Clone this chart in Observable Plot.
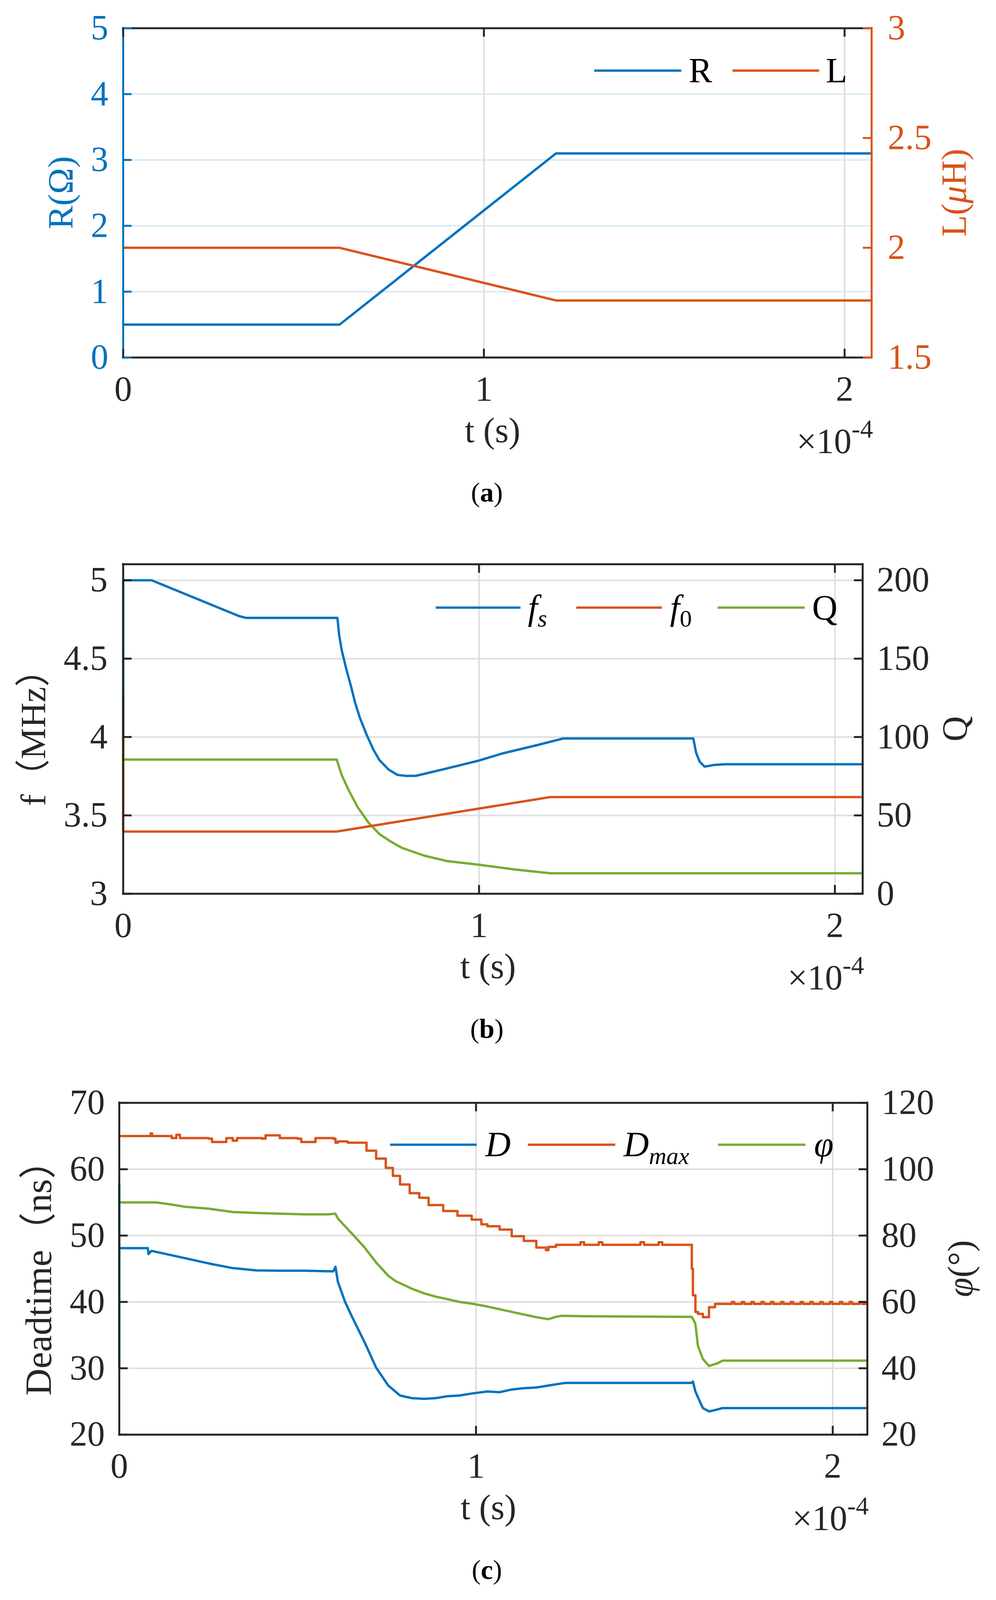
<!DOCTYPE html>
<html>
<head>
<meta charset="utf-8">
<script src="https://cdn.jsdelivr.net/npm/d3@7"></script>
<script src="https://cdn.jsdelivr.net/npm/@observablehq/plot@0.6"></script>
<style>
  html, body { margin: 0; padding: 0; background: #fff; overflow: hidden; }
  #page { width: 2551px; position: relative; }
  #page svg { display: block; max-width: none !important; }
</style>
</head>
<body>
<div id="page"></div>
<script>
// ---------------- data (t in units of 1e-4 s) ----------------
const xTicks = [0, 1, 2];

// Panel (a)
const tA   = [0, 0.6, 1.2, 2.075];
const R_A  = [0.5, 0.5, 3.1, 3.1];
const L_A  = [2.0, 2.0, 1.76, 1.76];
const rTicks = [0, 1, 2, 3, 4, 5];
const lTicks = [1.5, 2, 2.5, 3];

// Panel (b)
const tFs = [0, 0, 0.08, 0.325, 0.345, 0.37, 0.602, 0.607, 0.614, 0.627, 0.640, 0.652, 0.665, 0.684, 0.703, 0.720, 0.746, 0.771, 0.796, 0.822, 0.859, 0.909, 1.0, 1.067, 1.161, 1.237, 1.602, 1.610, 1.620, 1.634, 1.660, 1.691, 2.078];
const fsVals = [4.0, 5.0, 5.0, 4.772, 4.760, 4.760, 4.760, 4.649, 4.555, 4.433, 4.325, 4.217, 4.123, 4.015, 3.920, 3.853, 3.792, 3.758, 3.752, 3.752, 3.772, 3.799, 3.850, 3.896, 3.947, 3.991, 3.991, 3.90, 3.843, 3.811, 3.822, 3.826, 3.826];
const tF0 = [0, 0, 0.600, 1.200, 2.078];
const f0Vals = [4.26, 3.397, 3.397, 3.617, 3.617];
const tQ = [0, 0, 0.600, 0.614, 0.633, 0.658, 0.689, 0.720, 0.752, 0.783, 0.846, 0.909, 1.0, 1.099, 1.200, 2.078];
const qVals = [100, 85.6, 85.6, 75.8, 66.4, 55.6, 45.5, 38.1, 33.3, 29.3, 24.3, 20.9, 18.5, 15.5, 13.1, 13.1];
const fTicks = [3, 3.5, 4, 4.5, 5];
const qTicks = [0, 50, 100, 150, 200];

// Panel (c)
const tD = [0, 0, 0, 0.080, 0.082, 0.090, 0.184, 0.251, 0.318, 0.385, 0.452, 0.519, 0.600, 0.606, 0.613, 0.633, 0.653, 0.687, 0.720, 0.754, 0.787, 0.820, 0.854, 0.887, 0.921, 0.954, 0.988, 1.032, 1.066, 1.100, 1.134, 1.169, 1.203, 1.238, 1.251, 1.605, 1.608, 1.615, 1.629, 1.636, 1.653, 1.670, 1.691, 2.097];
const dVals = [30.1, 57.8, 48.1, 48.1, 47.2, 47.7, 46.6, 45.8, 45.1, 44.75, 44.7, 44.7, 44.6, 45.3, 43.0, 40.0, 37.7, 34.0, 30.1, 27.4, 25.9, 25.5, 25.4, 25.5, 25.8, 25.9, 26.2, 26.5, 26.4, 26.8, 27.0, 27.1, 27.4, 27.7, 27.8, 27.8, 28.0, 26.5, 24.8, 24.0, 23.5, 23.7, 24.0, 24.0];
const tPhi = [0, 0.104, 0.144, 0.184, 0.251, 0.318, 0.385, 0.452, 0.519, 0.586, 0.606, 0.613, 0.653, 0.687, 0.720, 0.754, 0.774, 0.820, 0.854, 0.887, 0.921, 0.954, 0.988, 1.028, 1.100, 1.169, 1.203, 1.224, 1.238, 1.306, 1.605, 1.615, 1.622, 1.636, 1.653, 1.677, 1.691, 2.097];
const phiVals = [90.0, 90.0, 89.4, 88.7, 88.1, 87.1, 86.8, 86.6, 86.4, 86.4, 86.6, 85.1, 80.5, 76.5, 71.9, 67.9, 66.3, 64.0, 62.6, 61.6, 60.8, 60.0, 59.5, 58.7, 57.0, 55.4, 54.8, 55.5, 55.8, 55.7, 55.5, 53.4, 46.8, 42.8, 40.7, 41.5, 42.3, 42.3];
const tDmax = [0, 0.088, 0.092, 0.147, 0.16, 0.17, 0.184, 0.25, 0.26, 0.30, 0.318, 0.33, 0.35, 0.40, 0.41, 0.45, 0.50, 0.51, 0.55, 0.60, 0.606, 0.613, 0.640, 0.680, 0.693, 0.720, 0.747, 0.767, 0.787, 0.814, 0.841, 0.867, 0.908, 0.948, 0.988, 1.015, 1.032, 1.066, 1.100, 1.134, 1.169, 1.196, 1.203, 1.224, 1.293, 1.303, 1.344, 1.354, 1.461, 1.471, 1.512, 1.522, 1.605, 1.608, 1.615, 1.622, 1.636, 1.653, 1.670, 1.691, 1.717, 1.724, 1.745, 1.752, 1.772, 1.779, 1.800, 1.807, 1.827, 1.834, 1.855, 1.862, 1.882, 1.889, 1.910, 1.917, 1.937, 1.944, 1.965, 1.972, 1.992, 1.999, 2.020, 2.027, 2.047, 2.054, 2.075, 2.082, 2.097];
const dmaxVals = [65.0, 65.4, 65.0, 64.7, 65.2, 64.7, 64.7, 64.6, 64.1, 64.7, 64.3, 64.7, 64.7, 64.6, 65.1, 64.7, 64.6, 64.1, 64.7, 64.6, 64.0, 64.2, 64.0, 64.0, 62.8, 61.6, 60.2, 59.0, 57.7, 56.4, 55.7, 54.6, 53.7, 53.0, 52.4, 51.7, 51.4, 50.9, 49.9, 49.2, 48.2, 47.8, 48.3, 48.6, 49.0, 48.6, 49.0, 48.6, 49.0, 48.6, 49.0, 48.6, 45.0, 41.0, 38.5, 38.2, 37.7, 39.2, 39.7, 39.7, 40.0, 39.7, 40.0, 39.7, 40.0, 39.7, 40.0, 39.7, 40.0, 39.7, 40.0, 39.7, 40.0, 39.7, 40.0, 39.7, 40.0, 39.7, 40.0, 39.7, 40.0, 39.7, 40.0, 39.7, 40.0, 39.7, 40.0, 39.7, 39.7];
const dTicks = [20, 30, 40, 50, 60, 70];
const phiTicks = [20, 40, 60, 80, 100, 120];

// ---------------- styling ----------------
const FONT = "Liberation Serif, Noto Sans CJK SC, serif";
const BLUE = "#0072BD", ORANGE = "#D95319", GREEN = "#77AC30";
const AX = "#262626", GRID = "#dedede", GRID_BLUE = "#d9eaf5";
const W = 2551, H0 = 4191, FS = 90, LW = 5, SW = 6, TICK = 22;
// fit the nominal 4191-px layout into the visible viewport height
const VH = window.innerHeight || H0;
const S = Math.min(1, VH / H0);
document.getElementById("page").style.height = (H0 * S) + "px";

const zipRows = (ts, vs) => ts.map((t, i) => ({t, v: vs[i]}));

function txt(svg, o) {
  const t = svg.append("text")
    .attr("font-family", FONT)
    .attr("font-size", o.size || FS)
    .attr("fill", o.fill || AX)
    .attr("text-anchor", o.anchor || "middle");
  if (o.rotate) t.attr("transform", `translate(${o.x},${o.y}) rotate(${o.rotate})`);
  else t.attr("x", o.x).attr("y", o.y);
  if (o.baseline) t.attr("dominant-baseline", o.baseline);
  for (const p of o.parts) {
    const s = t.append("tspan").text(p.t);
    if (p.italic) s.attr("font-style", "italic");
    if (p.bold) s.attr("font-weight", "bold");
    if (p.size) s.attr("font-size", p.size);
    if (p.dy) s.attr("dy", p.dy);
  }
  return t;
}

function buildPanel(cfg) {
  const {y0, h, left, right, top, bottom, xMax, yDomain} = cfg;
  const [y0d, y1d] = yDomain;
  const pxX = xMax / (right - left);               // data units per px (x)
  const pxY = (y1d - y0d) / ((bottom - top) * S);   // data units per px (y)
  const rightPos = cfg.rightTicks.map(cfg.toLeft);
  const rightLab = new Map(rightPos.map((p, i) => [p, String(cfg.rightTicks[i])]));
  const line = {strokeWidth: LW, strokeLinecap: "square"};
  const tx = {fontFamily: FONT, fontSize: FS};
  const marks = [
    // grid
    Plot.ruleY(cfg.leftTicks, {stroke: cfg.gridYColor, strokeWidth: 4}),
    Plot.ruleX(xTicks, {stroke: GRID, strokeWidth: 4}),
    ...cfg.series,
    // box
    Plot.ruleY([y1d], {stroke: AX, ...line}),
    Plot.ruleY([y0d], {stroke: AX, ...line}),
    Plot.ruleX([0], {stroke: cfg.leftColor, ...line}),
    Plot.ruleX([xMax], {stroke: cfg.rightColor, ...line}),
    // inward ticks
    Plot.ruleY(cfg.leftTicks, {x1: 0, x2: TICK * pxX, stroke: cfg.leftColor, strokeWidth: LW}),
    Plot.ruleY(rightPos, {x1: xMax - TICK * pxX, x2: xMax, stroke: cfg.rightColor, strokeWidth: LW}),
    Plot.ruleX(xTicks, {y1: y0d, y2: y0d + TICK * pxY, stroke: AX, strokeWidth: LW}),
    Plot.ruleX(xTicks, {y1: y1d - TICK * pxY, y2: y1d, stroke: AX, strokeWidth: LW}),
    // tick labels
    Plot.text(cfg.leftTicks, {x: 0, y: d => d, text: d => String(d), dx: -cfg.leftPad, textAnchor: "end", fill: cfg.leftColor, ...tx}),
    Plot.text(rightPos, {x: xMax, y: d => d, text: d => rightLab.get(d), dx: cfg.rightPad, textAnchor: "start", fill: cfg.rightColor, ...tx}),
    Plot.text(xTicks, {x: d => d, y: y0d, text: d => String(d), dy: 48 * S, lineAnchor: "top", fill: AX, ...tx})
  ];
  const svgNode = Plot.plot({
    width: W, height: h * S,
    marginLeft: left, marginRight: W - right,
    marginTop: (top - y0) * S, marginBottom: (y0 + h - bottom) * S,
    x: {domain: [0, xMax], axis: null},
    y: {domain: yDomain, axis: null},
    style: {fontFamily: FONT, fontSize: FS + "px", background: "white", overflow: "visible"},
    marks
  });
  const svg = d3.select(svgNode);
  svg.selectAll("text").attr("font-family", FONT);
  const fb = (bottom - y0) * S;  // frame bottom in svg coords
  const cx = (left + right) / 2;
  const cy = ((top + bottom) / 2 - y0) * S;
  // axis titles
  txt(svg, {x: cfg.leftLabelX, y: cy, rotate: -90, baseline: "central", fill: cfg.leftColor, size: cfg.leftLabelSize || FS, parts: cfg.leftLabel});
  txt(svg, {x: cfg.rightLabelX, y: cy, rotate: -90, baseline: "central", fill: cfg.rightColor, size: FS, parts: cfg.rightLabel});
  txt(svg, {x: cx - 12, y: fb + 222 * S, parts: [{t: "t (s)"}]});
  txt(svg, {x: right + 4, y: fb + 251 * S, anchor: "end", parts: [{t: "×10"}, {t: "-4", size: 66, dy: -40}]});
  // caption
  txt(svg, {x: 1247, y: fb + 378 * S, size: 70, fill: "#000", parts: [{t: "("}, {t: cfg.caption, bold: true}, {t: ")"}]});
  // legend
  const ly = cfg.legendY * S;
  for (const it of cfg.legend) {
    svg.append("line").attr("x1", it.x1).attr("x2", it.x2).attr("y1", ly).attr("y2", ly)
      .attr("stroke", it.color).attr("stroke-width", SW);
    txt(svg, {x: it.tx, y: ly + 30, anchor: "start", fill: "#000", parts: it.parts});
  }
  document.getElementById("page").appendChild(svgNode);
}

// ---------------- panel (a) ----------------
const rowsA = tA.map((t, i) => ({t, R: R_A[i], L: L_A[i]}));
const lToR = v => (v - 1.5) / 1.5 * 5;
buildPanel({
  y0: 0, h: 1350, left: 315, right: 2232, top: 73.5, bottom: 936, xMax: 2.075,
  yDomain: [0, 5], leftTicks: rTicks, rightTicks: lTicks, toLeft: lToR,
  leftColor: BLUE, rightColor: ORANGE, gridYColor: GRID_BLUE, leftPad: 38, rightPad: 41,
  series: [
    Plot.line(rowsA, {x: "t", y: "R", stroke: BLUE, strokeWidth: SW}),
    Plot.line(rowsA, {x: "t", y: d => lToR(d.L), stroke: ORANGE, strokeWidth: SW})
  ],
  leftLabelX: 155, leftLabel: [{t: "R(Ω)"}],
  rightLabelX: 2443, rightLabel: [{t: "L("}, {t: "μ", italic: true}, {t: "H)"}],
  caption: "a", legendY: 185,
  legend: [
    {x1: 1522, x2: 1745, tx: 1764, color: BLUE, parts: [{t: "R"}]},
    {x1: 1876, x2: 2098, tx: 2115, color: ORANGE, parts: [{t: "L"}]}
  ]
});

// ---------------- panel (b) ----------------
const qToF = v => 3 + v / 100;
buildPanel({
  y0: 1350, h: 1400, left: 315, right: 2209, top: 1478, bottom: 2341, xMax: 2.078,
  yDomain: [3, 5.102], leftTicks: fTicks, rightTicks: qTicks, toLeft: qToF,
  leftColor: AX, rightColor: AX, gridYColor: GRID, leftPad: 40, rightPad: 36,
  series: [
    Plot.line(zipRows(tQ, qVals), {x: "t", y: d => qToF(d.v), stroke: GREEN, strokeWidth: SW}),
    Plot.line(zipRows(tF0, f0Vals), {x: "t", y: "v", stroke: ORANGE, strokeWidth: SW}),
    Plot.line(zipRows(tFs, fsVals), {x: "t", y: "v", stroke: BLUE, strokeWidth: SW})
  ],
  leftLabelX: 85, leftLabel: [{t: "f（MHz）"}],
  rightLabelX: 2445, rightLabel: [{t: "Q"}],
  caption: "b", legendY: 242,
  legend: [
    {x1: 1116, x2: 1333, tx: 1352, color: BLUE, parts: [{t: "f", italic: true}, {t: "s", italic: true, size: 62, dy: 18}]},
    {x1: 1476, x2: 1695, tx: 1716, color: ORANGE, parts: [{t: "f", italic: true}, {t: "0", size: 62, dy: 18}]},
    {x1: 1838, x2: 2061, tx: 2080, color: GREEN, parts: [{t: "Q"}]}
  ]
});

// ---------------- panel (c) ----------------
const phiToD = v => 20 + (v - 20) / 2;
buildPanel({
  y0: 2750, h: 1441, left: 305, right: 2221, top: 2888, bottom: 3757, xMax: 2.097,
  yDomain: [20, 70], leftTicks: dTicks, rightTicks: phiTicks, toLeft: phiToD,
  leftColor: AX, rightColor: AX, gridYColor: GRID, leftPad: 37, rightPad: 36,
  series: [
    Plot.line(zipRows(tDmax, dmaxVals), {x: "t", y: "v", stroke: ORANGE, strokeWidth: SW, curve: "step-after"}),
    Plot.line(zipRows(tPhi, phiVals), {x: "t", y: d => phiToD(d.v), stroke: GREEN, strokeWidth: SW}),
    Plot.line(zipRows(tD, dVals), {x: "t", y: "v", stroke: BLUE, strokeWidth: SW})
  ],
  leftLabelX: 98, leftLabelSize: 96, leftLabel: [{t: "Deadtime（ns）"}],
  rightLabelX: 2459, rightLabel: [{t: "φ", italic: true}, {t: "(°)"}],
  caption: "c", legendY: 248,
  legend: [
    {x1: 999, x2: 1221, tx: 1243, color: BLUE, parts: [{t: "D", italic: true}]},
    {x1: 1352, x2: 1576, tx: 1597, color: ORANGE, parts: [{t: "D", italic: true}, {t: "max", italic: true, size: 62, dy: 20}]},
    {x1: 1839, x2: 2063, tx: 2085, color: GREEN, parts: [{t: "φ", italic: true}]}
  ]
});
</script>
</body>
</html>
